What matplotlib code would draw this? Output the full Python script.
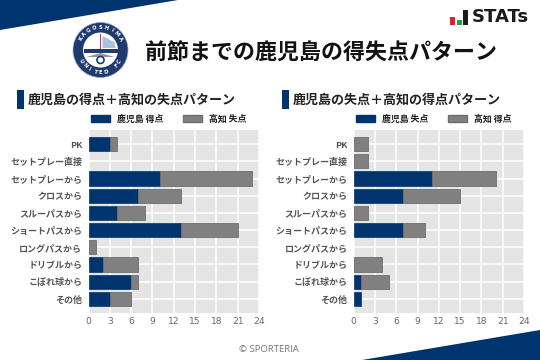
import numpy as np
import matplotlib
matplotlib.use("Agg")
import matplotlib.pyplot as plt
from matplotlib.patches import Polygon, Circle, Rectangle, Patch

plt.rcParams['font.family'] = ['Noto Sans CJK JP', 'DejaVu Sans']

categories = ['PK', 'セットプレー直接', 'セットプレーから', 'クロスから', 'スルーパスから',
              'ショートパスから', 'ロングパスから', 'ドリブルから', 'こぼれ球から', 'その他']
left_kagoshima = [3, 0, 10, 7, 4, 13, 0, 2, 6, 3]
left_kochi = [1, 0, 13, 6, 4, 8, 1, 5, 1, 3]
right_kagoshima = [0, 0, 11, 7, 0, 7, 0, 0, 1, 1]
right_kochi = [2, 2, 9, 8, 2, 3, 0, 4, 4, 0]
x_ticks = [0, 3, 6, 9, 12, 15, 18, 21, 24]
panel_titles = ['鹿児島の得点＋高知の失点パターン', '鹿児島の失点＋高知の得点パターン']
legend_labels = [('鹿児島 得点', '高知 失点'), ('鹿児島 失点', '高知 得点')]
main_title = '前節までの鹿児島の得失点パターン'

NAVY = '#00346f'
GRAY = '#808080'
W, H = 540, 360


def box(x0, y0, x1, y1):
    return [x0 / W, 1 - y1 / H, (x1 - x0) / W, (y1 - y0) / H]


fig = plt.figure(figsize=(5.4, 3.6), dpi=100, facecolor='white')
bg = fig.add_axes([0, 0, 1, 1], zorder=0)
bg.set_xlim(0, W)
bg.set_ylim(H, 0)
bg.axis('off')

# Corner bands
bg.add_patch(Polygon([(0, 0), (178, 0), (0, 30)], color=NAVY, lw=0))
bg.add_patch(Polygon([(362, 360), (540, 330), (540, 360)], color=NAVY, lw=0))

# Club badge
cx, cy = 100.5, 50
bg.add_patch(Circle((cx, cy), 27.5, fc='#1f3a6e', ec='#9aa6bd', lw=0.5))
bg.add_patch(Circle((cx, cy), 17.5, fc='white', ec='none'))
bg.add_patch(Rectangle((cx - 17, cy - 1), 34, 3.5, fc='#1f3a6e', ec='none'))
bg.add_patch(Rectangle((cx - 0.8, cy - 16), 1.6, 15, fc='#d8343c', ec='none'))
bg.add_patch(Polygon([(cx + 2, cy - 14), (cx + 14, cy - 8), (cx + 15, cy - 2), (cx + 2, cy - 2)],
                     fc='#a7c4dc', ec='none'))
bg.add_patch(Polygon([(cx - 14, cy + 7), (cx, cy + 3), (cx + 14, cy + 7)], fc='#8c97ad', ec='none'))
bg.add_patch(Circle((cx, cy + 10), 3.5, fc='white', ec='#1f3a6e', lw=1.2))
for text, a0, a1, flip in [('KAGOSHIMA', 150, 30, False), ('UNITED FC', 210, 330, True)]:
    for ch, a in zip(text, np.linspace(a0, a1, len(text))):
        t = np.deg2rad(a)
        bg.text(cx + 22.3 * np.cos(t), cy - 22.3 * np.sin(t), ch, color='white', fontsize=3.8,
                fontweight='bold', ha='center', va='center', rotation=(a + 90 if flip else a - 90),
                family='DejaVu Sans')

# Brand mark
bg.add_patch(Rectangle((450, 17), 5, 7.5, fc='#e0202c', ec='none'))
bg.add_patch(Rectangle((456.5, 19.5), 5, 5, fc='#1fa04a', ec='none'))
bg.add_patch(Rectangle((463, 10), 5, 14.5, fc='#1a1a1a', ec='none'))
bg.text(471.5, 17.5, 'STATs', fontsize=13, fontweight='bold', color='#1a1a1a', va='center',
        ha='left', family='DejaVu Sans')

bg.text(321, 53, main_title, fontsize=15.8, fontweight='bold', color='#111111', ha='center', va='center')
bg.text(269, 350, '© SPORTERIA', fontsize=6.8, color='#777777', ha='center', va='center',
        family='Open Sans')


def panel(x0, x1, bar_x, title, blue, gray, labels):
    bg.add_patch(Rectangle((bar_x, 90), 7, 19, fc=NAVY, ec='none'))
    bg.text(bar_x + 11, 99.5, title, fontsize=9.4, fontweight='bold', color='#222222', ha='left', va='center')

    ax = fig.add_axes(box(x0, 130, x1, 313), zorder=2)
    ax.set_facecolor('#e5e5e5')
    y = np.arange(len(categories))
    ax.barh(y, blue, height=0.82, color=NAVY, edgecolor=NAVY,
            linewidth=np.where(blue > 0, 0.5, 0), zorder=3)
    ax.barh(y, gray, left=blue, height=0.82, color=GRAY, edgecolor='#6e6e6e',
            linewidth=np.where(gray > 0, 0.6, 0), zorder=3)
    ax.set_xlim(0, 24)
    ax.set_ylim(9.82, -0.82)
    ax.set_xticks(x_ticks)
    ax.set_yticks(y)
    ax.set_yticklabels(categories, fontsize=6.5, fontweight='bold', color='#555555')
    ax.tick_params(axis='x', labelsize=6.6, labelcolor='#666666', length=0, pad=3)
    ax.tick_params(axis='y', length=0, pad=4.5)
    for lab in ax.get_xticklabels():
        lab.set_family('DejaVu Sans')
    ax.grid(True, color='white', lw=1.1, zorder=1)
    ax.set_axisbelow(True)
    for s in ax.spines.values():
        s.set_visible(False)
    handles = [Patch(fc=NAVY, ec=NAVY), Patch(fc=GRAY, ec='#6e6e6e')]
    leg = ax.legend(handles, labels, ncol=2, loc='center', bbox_to_anchor=(0.47, 1.06), frameon=False,
                    fontsize=6.4, handlelength=2.15, handleheight=0.7, handletextpad=0.8,
                    columnspacing=2.15, borderpad=0)
    for t in leg.get_texts():
        t.set_color('#222222')
        t.set_fontweight('bold')


panel(88.5, 259, 17, panel_titles[0], np.array(left_kagoshima), np.array(left_kochi), legend_labels[0])
panel(353.7, 524, 282, panel_titles[1], np.array(right_kagoshima), np.array(right_kochi), legend_labels[1])

fig.savefig('out.png', dpi=100, facecolor='white')
